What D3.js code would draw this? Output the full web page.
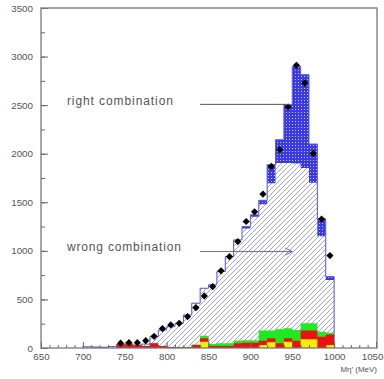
<!DOCTYPE html>
<html>
<head>
<meta charset="utf-8">
<script src="https://cdn.jsdelivr.net/npm/d3@7"></script>
<style>
  body { margin: 0; background: #fff; }
  text { font-family: "Liberation Sans", Arial, sans-serif; }
</style>
</head>
<body>
<div id="chart"></div>
<script>
// bin lower edges (MeV), 10 MeV wide
var binLo = [700,710,720,730,740,750,760,770,780,790,800,810,820,830,840,850,860,870,880,890,900,910,920,930,940,950,960,970,980,990];

// wrong combination (hatched)
var wrongComb = [12,10,8,15,20,25,30,40,117,185,220,254,340,461,615,650,787,941,1113,1230,1351,1480,1697,1904,1905,1900,1854,1700,1150,700];
// right combination (blue, stacked on wrong)
var rightComb = [0,0,0,0,0,0,0,0,0,0,0,0,0,0,0,0,0,0,0,20,20,40,190,240,600,1000,960,400,180,35];

// background components drawn at the bottom
var bkgYellow = [0,0,0,0,0,0,0,0,0,0,0,0,0,0,65,0,0,0,0,0,0,30,60,0,65,0,90,90,0,30];
var bkgRed    = [0,5,5,0,40,45,30,20,48,20,10,8,5,30,35,20,20,20,48,55,55,45,40,48,35,75,89,89,117,108];
var bkgGreen  = [0,0,0,0,0,0,0,0,0,0,0,0,5,5,27,21,28,28,27,25,25,104,79,144,103,110,75,75,51,20];

// data points (null = not drawn)
var dataPts = [null,null,null,null,50,55,55,75,120,200,237,254,323,415,536,632,794,941,1096,1302,1402,1585,1869,2041,2481,2910,2729,2000,1327,951];

var xTicks = [650,700,750,800,850,900,950,1000,1050];
var yTicks = [0,500,1000,1500,2000,2500,3000,3500];

var width = 384, height = 379;

var x = d3.scaleLinear().domain([650, 1050]).range([41, 376]);
var y = d3.scaleLinear().domain([0, 3500]).range([348, 8]);

var svg = d3.select("#chart").append("svg")
    .attr("width", width)
    .attr("height", height);

var defs = svg.append("defs");

var hatch = defs.append("pattern")
    .attr("id", "hatch")
    .attr("patternUnits", "userSpaceOnUse")
    .attr("width", 5).attr("height", 5);
hatch.append("rect").attr("width", 5).attr("height", 5).attr("fill", "#fff");
hatch.append("path")
    .attr("d", "M-1,1 l2,-2 M0,5 l5,-5 M4,6 l2,-2")
    .attr("stroke", "#a2a2d8")
    .attr("stroke-width", 1);

var checker = defs.append("pattern")
    .attr("id", "checker")
    .attr("patternUnits", "userSpaceOnUse")
    .attr("width", 3).attr("height", 3);
checker.append("rect").attr("width", 3).attr("height", 3).attr("fill", "#3a3ae4");
checker.append("rect").attr("x", 1).attr("y", 1).attr("width", 1).attr("height", 1).attr("fill", "#c8c8ff");

// step series helper: one point per bin edge, last repeated at upper edge
function steps(vals) {
  var pts = binLo.map(function(b, i) { return {x: b, v: vals[i]}; });
  pts.push({x: binLo[binLo.length - 1] + 10, v: vals[vals.length - 1]});
  return pts;
}

var area = d3.area()
    .curve(d3.curveStepAfter)
    .x(function(d) { return x(d.x); })
    .y0(y(0))
    .y1(function(d) { return y(d.v); });

var total = wrongComb.map(function(w, i) { return w + rightComb[i]; });

// right combination (full total, then wrong drawn over it)
svg.append("path")
    .attr("d", area(steps(total)))
    .attr("fill", "url(#checker)");

svg.append("path")
    .attr("d", area(steps(wrongComb)))
    .attr("fill", "url(#hatch)");

// outline of total
var outline = steps(total);
outline.unshift({x: binLo[0], v: 0});
outline.push({x: binLo[binLo.length - 1] + 10, v: 0});
svg.append("path")
    .attr("d", d3.line().curve(d3.curveStepAfter)
        .x(function(d) { return x(d.x); })
        .y(function(d) { return y(d.v); })(outline))
    .attr("fill", "none")
    .attr("stroke", "#5a5ae6")
    .attr("stroke-width", 1);

// background stacks
var cumRed = bkgYellow.map(function(v, i) { return v + bkgRed[i]; });
var cumGreen = cumRed.map(function(v, i) { return v + bkgGreen[i]; });

svg.append("path").attr("d", area(steps(cumGreen))).attr("fill", "#1fea1f");
svg.append("path").attr("d", area(steps(cumRed))).attr("fill", "#ee1010");
svg.append("path").attr("d", area(steps(bkgYellow))).attr("fill", "#f4f000");

// data points
svg.append("g")
  .selectAll("path")
  .data(binLo.map(function(b, i) { return {x: b + 5, v: dataPts[i]}; })
        .filter(function(d) { return d.v != null; }))
  .join("path")
    .attr("d", d3.symbol().type(d3.symbolSquare).size(26))
    .attr("transform", function(d) { return "translate(" + x(d.x) + "," + y(d.v) + ") rotate(45)"; })
    .attr("fill", "#000");

// annotations
svg.append("text")
    .attr("x", x(681)).attr("y", y(2500))
    .attr("font-family", "Lato, 'Open Sans', sans-serif")
    .attr("font-size", 12)
    .attr("fill", "#555")
    .attr("textLength", 106)
    .text("right combination");
svg.append("line")
    .attr("x1", x(840)).attr("x2", x(947))
    .attr("y1", y(2508)).attr("y2", y(2508))
    .attr("stroke", "#555").attr("stroke-width", 1);

svg.append("text")
    .attr("x", x(681)).attr("y", y(1000))
    .attr("font-family", "Lato, 'Open Sans', sans-serif")
    .attr("font-size", 12)
    .attr("fill", "#555")
    .attr("textLength", 114)
    .text("wrong combination");
var ay = y(993);
svg.append("path")
    .attr("d", "M" + x(840) + "," + ay + "H" + x(950) +
               "M" + (x(950) - 7) + "," + (ay - 3.5) + "L" + x(950) + "," + ay + "L" + (x(950) - 7) + "," + (ay + 3.5))
    .attr("fill", "none")
    .attr("stroke", "#6d6da8").attr("stroke-width", 1);

// axes (ticks point inward)
var yMinor = d3.range(0, 3501, 250);
var xMinor = d3.range(650, 1051, 10);
var fmt = d3.format("d");

svg.append("g")
    .attr("transform", "translate(" + x(650) + ",0)")
    .call(d3.axisLeft(y).tickValues(yMinor).tickSize(-4).tickFormat(""))
    .call(function(g) { g.select(".domain").remove(); g.selectAll("line").attr("stroke", "#666"); });

svg.append("g")
    .attr("transform", "translate(" + x(650) + ",0)")
    .call(d3.axisLeft(y).tickValues(yTicks).tickSize(-7).tickPadding(8).tickFormat(fmt))
    .call(function(g) {
      g.select(".domain").remove();
      g.selectAll("line").attr("stroke", "#666");
      g.selectAll("text").attr("font-size", 9.8).attr("fill", "#555")
        .attr("font-family", "'Liberation Sans', Arial, sans-serif");
    });

svg.append("g")
    .attr("transform", "translate(0," + y(0) + ")")
    .call(d3.axisBottom(x).tickValues(xMinor).tickSize(-3).tickFormat(""))
    .call(function(g) { g.select(".domain").remove(); g.selectAll("line").attr("stroke", "#666"); });

svg.append("g")
    .attr("transform", "translate(0," + y(0) + ")")
    .call(d3.axisBottom(x).tickValues(xTicks).tickSize(-6).tickPadding(5).tickFormat(fmt))
    .call(function(g) {
      g.select(".domain").remove();
      g.selectAll("line").attr("stroke", "#666");
      g.selectAll("text").attr("font-size", 9.8).attr("fill", "#555")
        .attr("font-family", "'Liberation Sans', Arial, sans-serif");
      // keep the last label inside the window
      g.selectAll("text").filter(function(d) { return d === 1050; })
        .attr("text-anchor", "end").attr("x", 383 - x(1050));
    });

// frame
svg.append("rect")
    .attr("x", x(650)).attr("y", y(3500))
    .attr("width", x(1050) - x(650) + 1)
    .attr("height", y(0) - y(3500))
    .attr("fill", "none")
    .attr("stroke", "#777")
    .attr("stroke-width", 1.3);

svg.append("text")
    .attr("x", 377).attr("y", 372)
    .attr("text-anchor", "end")
    .attr("font-size", 8)
    .attr("fill", "#555")
    .text("Mη′ (MeV)");
</script>
</body>
</html>
